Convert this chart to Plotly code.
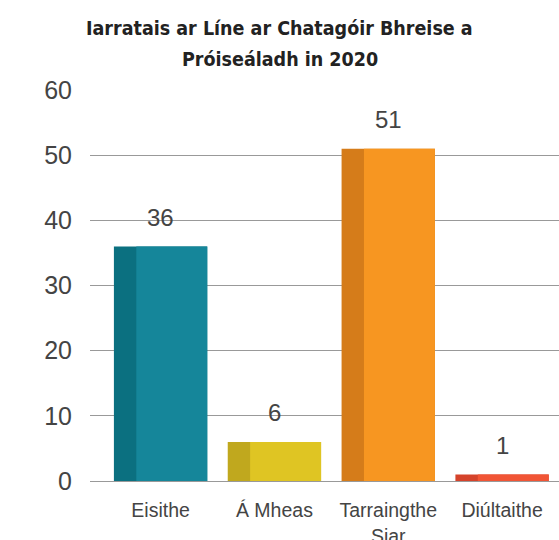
import plotly.graph_objects as go

categories = ["Eisithe", "Á Mheas", "Tarraingthe<br>Siar", "Diúltaithe"]
values = [36, 6, 51, 1]
dark_colors = ["#0b7080", "#c0a81e", "#d57c1a", "#d5432b"]
light_colors = ["#15869a", "#dfc523", "#f79621", "#f15535"]
y_ticks = [0, 10, 20, 30, 40, 50, 60]
title_lines = ["Iarratais ar Líne ar Chatagóir Bhreise a", "Próiseáladh in 2020"]

BW = 0.82
DARK_FRAC = 0.24

fig = go.Figure()
fig.add_trace(go.Bar(
    x=categories, y=values, width=BW, offset=-BW / 2,
    marker=dict(color=dark_colors, line=dict(width=0)),
    hoverinfo="skip", showlegend=False,
))
fig.add_trace(go.Bar(
    x=categories, y=values, width=BW * (1 - DARK_FRAC), offset=-BW / 2 + BW * DARK_FRAC,
    marker=dict(color=light_colors, line=dict(width=0)),
    showlegend=False,
))

for c, v in zip(categories, values):
    fig.add_annotation(x=c, y=v, text=str(v), showarrow=False, yshift=29,
                       font=dict(size=24, color="#444444", family="Liberation Sans"))

# title lines as annotations (centered on the full figure width)
for line, shift in zip(title_lines, [62, 31]):
    fig.add_annotation(
        xref="paper", yref="paper", x=(279.5 - 90) / 469, y=1.0, yshift=shift,
        xanchor="center", yanchor="middle", showarrow=False,
        text="<b>" + line + "</b>",
        font=dict(size=19.5, color="#222222", family="Liberation Sans Narrow, DejaVu Sans Condensed, Arial Narrow"),
    )

fig.update_layout(
    width=559, height=540,
    barmode="overlay",
    plot_bgcolor="white", paper_bgcolor="white",
    margin=dict(l=90, r=0, t=90, b=59, autoexpand=False),
    xaxis=dict(
        range=[-0.62, 3.5], showgrid=False, showline=False, zeroline=False, automargin=False,
        tickfont=dict(size=19.5, color="#444444", family="Liberation Sans"),
        ticks="outside", ticklen=12, tickcolor="rgba(0,0,0,0)",
    ),
    yaxis=dict(
        range=[0, 60], tickvals=y_ticks, showgrid=True, gridcolor="#999999", gridwidth=1,
        zeroline=True, zerolinecolor="#999999", zerolinewidth=1, showline=False, automargin=False,
        tickfont=dict(size=25, color="#444444", family="Liberation Sans"),
        ticks="outside", ticklen=12, tickcolor="rgba(0,0,0,0)",
    ),
)

fig.write_html("out.html", config={"displayModeBar": False},
               post_script="document.body.style.margin='0';document.body.style.overflow='hidden';")
